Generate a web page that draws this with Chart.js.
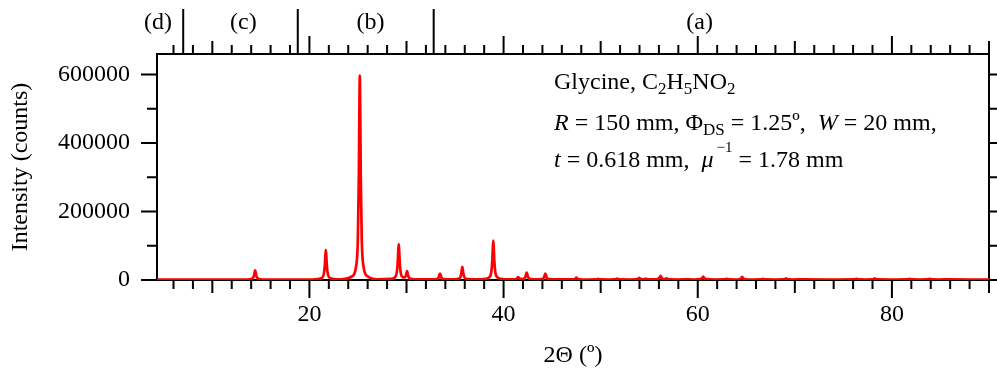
<!DOCTYPE html>
<html>
<head>
<meta charset="utf-8">
<title>Glycine powder pattern</title>
<script src="https://cdn.jsdelivr.net/npm/chart.js@4.4.1/dist/chart.umd.min.js"></script>
<style>
  html, body { margin: 0; padding: 0; background: #fff; }
  canvas { display: block; }
</style>
</head>
<body>
<canvas id="xrd" width="997" height="370"></canvas>
<script>
// measured profile, one line per reflection (same grouping in both arrays)
const twoTheta = [
  4.3, 9.0, 13.6,
  14.01, 14.21, 14.31, 14.36, 14.41, 14.46, 14.51, 14.61, 14.81,
  15.2, 20.3,
  20.89, 21.29, 21.49, 21.59, 21.64, 21.69, 21.74, 21.79, 21.89, 22.09, 22.49,
  23.3,
  24.39, 24.79, 24.99, 25.09, 25.14, 25.19, 25.24, 25.29, 25.39, 25.59, 25.99,
  27.0,
  28.4, 28.8, 29.0, 29.1, 29.15, 29.2, 29.25, 29.3, 29.4, 29.6, 29.8,
  29.96, 30.01, 30.06, 30.11, 30.16, 30.26, 30.46, 30.86,
  31.8,
  33.05, 33.25, 33.35, 33.4, 33.45, 33.5, 33.55, 33.65, 33.85,
  34.6,
  35.35, 35.55, 35.65, 35.7, 35.75, 35.8, 35.85, 35.95, 36.15,
  37.3,
  38.14, 38.54, 38.74, 38.84, 38.89, 38.94, 38.99, 39.04, 39.14, 39.34, 39.74,
  40.6,
  41.1, 41.3, 41.4, 41.5, 41.6, 41.7,
  41.98, 42.18, 42.28, 42.33, 42.38, 42.43, 42.48, 42.58, 42.78,
  43.5,
  43.9, 44.1, 44.2, 44.25, 44.3, 44.35, 44.4, 44.5, 44.7,
  45.8,
  47.2, 47.4, 47.5, 47.6, 47.8,
  48.7,
  49.45, 49.65, 49.75, 49.85, 50.05,
  50.9,
  51.4, 51.6, 51.7, 51.8, 52.0,
  53.0,
  53.67, 53.87, 53.97, 54.07, 54.27, 54.56, 54.66, 54.76, 54.96,
  55.6,
  55.87, 56.07, 56.17, 56.27, 56.47, 56.69, 56.79, 56.89, 57.09,
  58.0,
  58.55, 58.75, 58.85, 58.95, 59.15,
  59.6,
  60.26, 60.46, 60.56, 60.66, 60.86,
  61.8,
  62.67, 62.87, 62.97, 63.07, 63.27,
  63.9,
  64.27, 64.47, 64.57, 64.67, 64.87,
  65.8,
  66.4, 66.6, 66.7, 66.8, 67.0,
  68.0,
  68.8, 69.0, 69.1, 69.2, 69.4,
  69.8,
  70.2, 70.4, 70.5, 70.6, 70.8,
  73.5,
  76.05, 76.25, 76.35, 76.45, 76.65,
  77.3,
  77.93, 78.13, 78.23, 78.33, 78.53,
  80.0,
  81.53, 81.73, 81.83, 81.93, 82.13,
  82.9,
  83.6, 83.8, 83.9, 84.0, 84.2,
  84.9,
  85.3, 85.5, 85.6, 85.7, 85.9,
  88.0, 90.0
];

const counts = [
  1500, 1500, 1500,
  3000, 6800, 14700, 22700, 28000, 22700, 14700, 6800, 3000,
  1500, 1500,
  2800, 6500, 18600, 44300, 69900, 87000, 69900, 44300, 18600, 6500, 2800,
  1600,
  10700, 36500, 120600, 299300, 477900, 597000, 477900, 299300, 120600, 36500, 10700,
  2000,
  3100, 7600, 22200, 53300, 84300, 105000, 84300, 53300, 22200, 8700, 7500,
  14500, 21000, 26000, 20500, 13500, 6800, 3300, 1900,
  1600,
  2500, 5000, 10300, 15500, 19000, 15500, 10300, 5000, 2500,
  1600,
  3700, 8900, 20000, 31100, 38500, 31100, 20000, 8900, 3700,
  1800,
  3300, 8200, 24200, 58300, 92300, 115000, 92300, 58300, 24200, 8200, 3300,
  1700,
  1900, 3000, 5100, 8700, 5300, 3300,
  2900, 5800, 11800, 17800, 21900, 17800, 11700, 5600, 2700,
  1700,
  2500, 5000, 10300, 15500, 19000, 15500, 10300, 5000, 2500,
  1600,
  2100, 4300, 7000, 4300, 2100,
  1500,
  1650, 2250, 3000, 2250, 1650,
  1500,
  1750, 2750, 4000, 2750, 1750,
  1500,
  1950, 3750, 6000, 3750, 2000, 2800, 4000, 2750, 1750,
  1600,
  2550, 6750, 12000, 6750, 2700, 3300, 5000, 3250, 1850,
  1500,
  1600, 2000, 2500, 2000, 1600,
  1500,
  2350, 5750, 10000, 5750, 2350,
  1500,
  1700, 2500, 3500, 2500, 1700,
  1500,
  2250, 5250, 9000, 5250, 2250,
  1500,
  1650, 2250, 3000, 2250, 1650,
  1500,
  1800, 3000, 4500, 3000, 1800,
  1500,
  1600, 2000, 2500, 2000, 1600,
  1500,
  1700, 2500, 3500, 2500, 1700,
  1500,
  1800, 3000, 4500, 3000, 1800,
  1500,
  1700, 2500, 3500, 2500, 1700,
  1500,
  1700, 2500, 3500, 2500, 1700,
  1500,
  1600, 2000, 2500, 2000, 1600,
  1500, 1500
];

const xTickLabels = [20, 40, 60, 80];
const yTickLabels = [0, 200000, 400000, 600000];

// slit regions marked along the top axis
const regionNames = ["(d)", "(c)", "(b)", "(a)"];
const regionNameAt = [4.4, 13.2, 26.3, 60.2];
const regionEdges = [7.0, 18.8, 32.8];

const FONT = "'Liberation Serif', 'Times New Roman', serif";
const FS = 24;

const infoLines = [
  [{ t: "Glycine, C" }, { t: "2", sub: 1 }, { t: "H" }, { t: "5", sub: 1 }, { t: "NO" }, { t: "2", sub: 1 }],
  [{ t: "R", i: 1 }, { t: " = 150 mm, \u03A6" }, { t: "DS", sub: 1 }, { t: " = 1.25\u00BA,  " }, { t: "W", i: 1 }, { t: " = 20 mm," }],
  [{ t: "t", i: 1 }, { t: " = 0.618 mm,  " }, { t: "\u03BC", i: 1, gap: 3 }, { t: "\u22121", sup: 1 }, { t: " = 1.78 mm" }]
];

function drawRich(ctx, x, y, parts) {
  for (const p of parts) {
    let size = FS, dy = 0;
    if (p.sub) { size = 17; dy = 5; }
    if (p.sup) { size = 15; dy = -15; }
    ctx.font = (p.i ? "italic " : "") + size + "px " + FONT;
    ctx.fillText(p.t, x, y + dy);
    x += ctx.measureText(p.t).width + (p.gap || 0);
  }
}

// box, tick marks on all four sides and the region separators
const axesFrame = {
  id: "axesFrame",
  beforeDatasetsDraw(chart) {
    const { ctx, chartArea: a, scales: { x, y } } = chart;
    ctx.save();
    ctx.strokeStyle = "#000";
    ctx.lineWidth = 2;
    ctx.strokeRect(a.left, a.top, a.right - a.left, a.bottom - a.top);

    ctx.beginPath();
    for (let v = 2; v <= x.max; v += 2) {
      if (v < x.min) continue;
      const px = x.getPixelForValue(v);
      const len = v % 20 === 0 ? 18 : v % 10 === 0 ? 13 : 9;
      ctx.moveTo(px, a.bottom);
      ctx.lineTo(px, a.bottom + len);
      ctx.moveTo(px, a.top);
      ctx.lineTo(px, a.top - len);
    }
    for (let v = 0; v <= 600000; v += 100000) {
      const py = y.getPixelForValue(v);
      const len = v % 200000 === 0 ? 16 : 10;
      ctx.moveTo(a.left, py);
      ctx.lineTo(a.left - len, py);
      ctx.moveTo(a.right, py);
      ctx.lineTo(a.right + 8, py);
    }
    for (const e of regionEdges) {
      const px = x.getPixelForValue(e);
      ctx.moveTo(px, a.top);
      ctx.lineTo(px, 9);
    }
    ctx.stroke();

    ctx.fillStyle = "#000";
    ctx.textAlign = "center";
    ctx.textBaseline = "alphabetic";
    ctx.font = FS + "px " + FONT;
    regionNames.forEach((n, i) => {
      ctx.fillText(n, x.getPixelForValue(regionNameAt[i]), 29);
    });
    ctx.restore();
  },
  afterDraw(chart) {
    const { ctx } = chart;
    ctx.save();
    ctx.fillStyle = "#000";
    ctx.textAlign = "left";
    ctx.textBaseline = "alphabetic";
    const base = [88.5, 130, 166.5];
    infoLines.forEach((ln, i) => drawRich(ctx, 554, base[i], ln));
    ctx.restore();
  }
};

const points = twoTheta.map((t, i) => ({ x: t, y: counts[i] }));

new Chart(document.getElementById("xrd"), {
  type: "line",
  data: {
    datasets: [{
      data: points,
      borderColor: "#ff0000",
      borderWidth: 2.7,
      pointRadius: 0,
      cubicInterpolationMode: "monotone",
      fill: false
    }]
  },
  options: {
    responsive: false,
    animation: false,
    devicePixelRatio: 1,
    layout: { autoPadding: false, padding: { top: 54, right: 8, left: 0, bottom: 0 } },
    plugins: { legend: { display: false }, tooltip: { enabled: false } },
    scales: {
      x: {
        type: "linear",
        min: 4.3,
        max: 90,
        grid: { display: false, drawTicks: false },
        border: { display: false },
        afterBuildTicks: (s) => { s.ticks = xTickLabels.map((v) => ({ value: v })); },
        ticks: {
          autoSkip: false,
          maxRotation: 0,
          padding: 20,
          color: "#000",
          font: { family: FONT, size: FS },
          callback: (v) => String(v)
        },
        title: {
          display: true,
          text: "2\u0398 (\u00BA)",
          color: "#000",
          font: { family: FONT, size: FS, lineHeight: 1 },
          padding: { top: 0, bottom: 2 }
        },
        afterFit: (s) => { s.height = 90; }
      },
      y: {
        min: 0,
        max: 660000,
        grid: { display: false, drawTicks: false },
        border: { display: false },
        afterBuildTicks: (s) => { s.ticks = yTickLabels.map((v) => ({ value: v })); },
        ticks: {
          autoSkip: false,
          padding: 27,
          color: "#000",
          font: { family: FONT, size: FS },
          callback: (v) => String(v)
        },
        title: {
          display: true,
          text: "Intensity (counts)",
          color: "#000",
          font: { family: FONT, size: FS, lineHeight: 1 },
          padding: { top: 9, bottom: 0 }
        },
        afterFit: (s) => { s.width = 157; }
      }
    }
  },
  plugins: [axesFrame]
});
</script>
</body>
</html>
